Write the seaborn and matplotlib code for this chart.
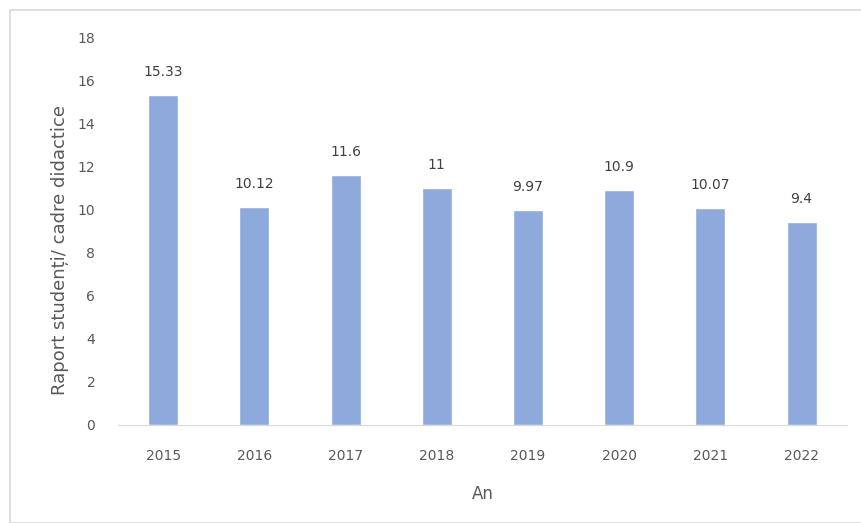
import matplotlib
matplotlib.use("Agg")
import matplotlib.pyplot as plt
import seaborn as sns
import pandas as pd
from matplotlib.patches import Rectangle

years = ["2015", "2016", "2017", "2018", "2019", "2020", "2021", "2022"]
ratio = [15.33, 10.12, 11.6, 11, 9.97, 10.9, 10.07, 9.4]
ratio_labels = ["15.33", "10.12", "11.6", "11", "9.97", "10.9", "10.07", "9.4"]

df = pd.DataFrame({"An": years, "Raport": ratio})

sns.set_style("white")
plt.rcParams["font.family"] = ["DejaVu Sans"]

fig = plt.figure(figsize=(8.61, 5.23), dpi=100)
ax = fig.add_axes([0.1365, 0.1874, 0.8475, 0.7416])

# chart frame
fig.patches.append(Rectangle((10 / 861, 0), 1, 1 - 10 / 523, transform=fig.transFigure,
                             fill=False, edgecolor="#d9d9d9", linewidth=1.2))

sns.barplot(data=df, x="An", y="Raport", color="#8eaadc", width=0.33,
            saturation=1, ax=ax)

for i, (v, lab) in enumerate(zip(ratio, ratio_labels)):
    ax.text(i, v + 0.75, lab, ha="center", va="bottom", fontsize=10, color="#404040")

ax.set_ylim(0, 18)
ax.set_yticks(range(0, 19, 2))
ax.set_xlim(-0.5, len(years) - 0.5)
ax.tick_params(axis="both", length=0, labelsize=10, labelcolor="#595959")
ax.tick_params(axis="x", pad=17)
ax.tick_params(axis="y", pad=16)

for s in ["top", "right", "left"]:
    ax.spines[s].set_visible(False)
ax.spines["bottom"].set_color("#d9d9d9")

ax.set_xlabel("An", fontsize=12, color="#595959", labelpad=16)
ax.set_ylabel("Raport studenți/ cadre didactice", fontsize=13, color="#595959")
ax.yaxis.set_label_coords(-0.066, 0.45)

fig.savefig("out.png", dpi=100)
